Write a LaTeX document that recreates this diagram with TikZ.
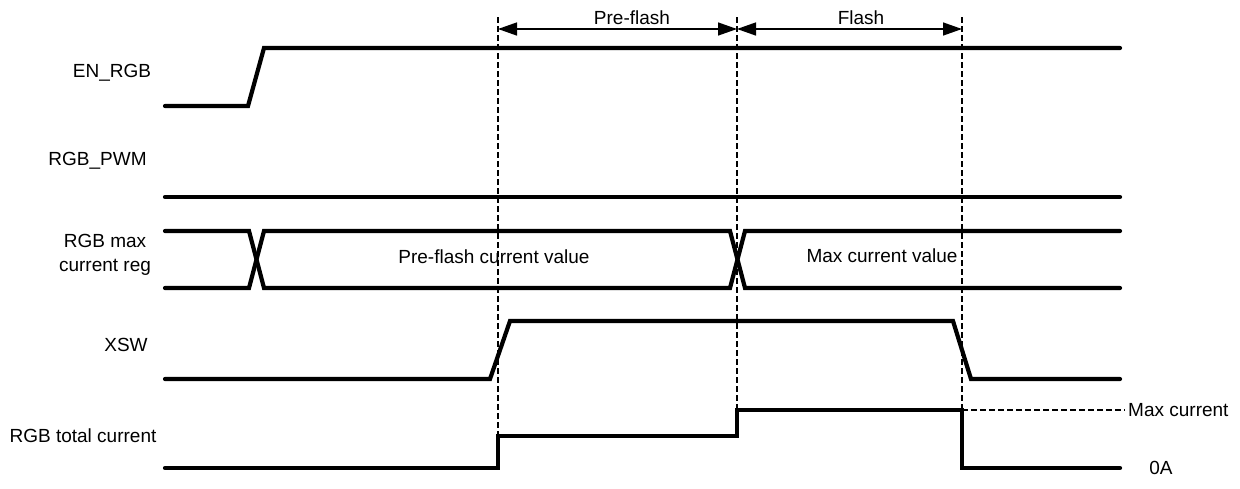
\documentclass[tikz,border=0pt]{standalone}
\usepackage{fontspec}
\setmainfont{Liberation Sans}
\usetikzlibrary{arrows.meta}
\begin{document}
\begin{tikzpicture}[x=1pt,y=-1pt,
  wave/.style={line width=4.2pt,line cap=round,line join=miter},
  marker/.style={line width=1.7pt,dash pattern=on 6pt off 3pt},
  span/.style={line width=1.4pt,{Triangle[length=19pt,width=13pt]}-{Triangle[length=19pt,width=13pt]}},
  lbl/.style={font=\fontsize{19}{24}\selectfont,inner sep=0pt}]
\useasboundingbox (0,0) rectangle (1240,488);
% labels
\node[lbl] (en) at (112,73) {EN\_RGB};
\node[lbl] (pwm) at (97.5,161) {RGB\_PWM};
\node[lbl,align=center] (reg) at (105,255) {RGB max\\current reg};
\node[lbl] (xsw) at (126,345) {XSW};
\node[lbl] (tot) at (83,436) {RGB total current};
% marker coordinates
\coordinate (a1) at (498,17); \coordinate (a2) at (498,436);
\coordinate (b1) at (737,17); \coordinate (b2) at (737,410);
\coordinate (c1) at (962,17); \coordinate (c2) at (962,410);
\coordinate (r2) at (1125,410);
\coordinate (pa) at (498,29); \coordinate (pb) at (737,29); \coordinate (pc) at (962,29);
% markers
\draw[marker] (a1) -- (a2);
\draw[marker] (b1) -- (b2);
\draw[marker] (c1) -- (c2);
\draw[marker] (c2) -- (r2);
% spans
\draw[span] (pa) -- (pb);
\draw[span] (pb) -- (pc);
\node[lbl] (pf) at (632,18) {Pre-flash};
\node[lbl] (fl) at (861,18) {Flash};
% waveforms
\draw[wave] (165,106) -- (248,106) -- (264,48) -- (1120,48);
\draw[wave] (165,197) -- (1120,197);
\draw[wave] (165,231) -- (249,231) -- (264,288) -- (730,288) -- (745,231) -- (1120,231);
\draw[wave] (165,288) -- (249,288) -- (264,231) -- (730,231) -- (745,288) -- (1120,288);
\draw[wave] (165,379) -- (490,379) -- (510,321) -- (953,321) -- (971,379) -- (1120,379);
\draw[wave] (165,468) -- (498,468) -- (498,436) -- (737,436) -- (737,410) -- (962,410) -- (962,468) -- (1120,468);
% value texts
\node[lbl] (pv) at (494,257) {Pre-flash current value};
\node[lbl] (mv) at (882,256) {Max current value};
\node[lbl,anchor=west] (mc) at (1128,410) {Max current};
\node[lbl] (za) at (1161,468) {0A};
\end{tikzpicture}
\end{document}
